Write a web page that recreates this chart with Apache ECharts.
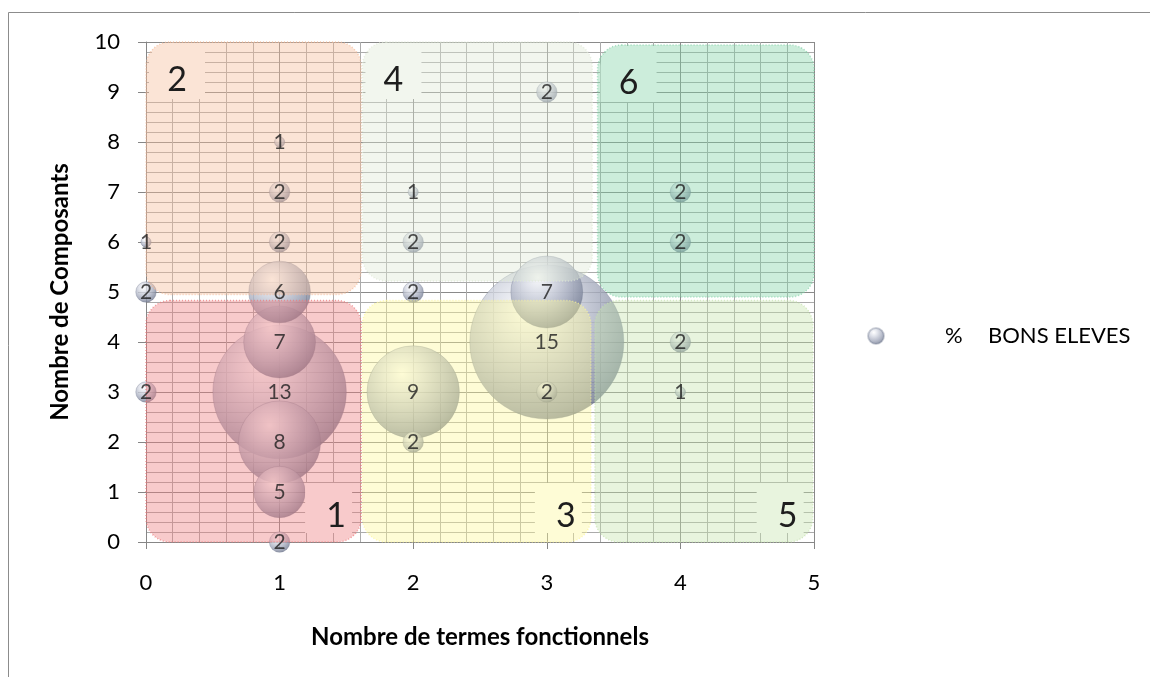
<!DOCTYPE html>
<html>
<head>
<meta charset="utf-8">
<script src="https://cdn.jsdelivr.net/npm/echarts@6/dist/echarts.min.js"></script>
<style>
  html, body {margin: 0; padding: 0; background: #fff;}
  #chart {width: 1150px; height: 677px;}
</style>
</head>
<body>
<div id="chart"></div>
<script>
// bubbles: x = termes fonctionnels, y = composants, size = % bons eleves
var termes     = [1, 1, 1, 1, 1, 1, 1, 1, 1, 0, 0, 0, 2, 2, 2, 2, 2, 3, 3, 3, 3, 4, 4, 4, 4];
var composants = [8, 7, 6, 5, 4, 3, 2, 1, 0, 6, 5, 3, 7, 6, 5, 3, 2, 9, 5, 4, 3, 7, 6, 4, 3];
var bonsEleves = [1, 2, 2, 6, 7, 13, 8, 5, 2, 1, 2, 2, 1, 2, 2, 9, 2, 2, 7, 15, 2, 2, 2, 2, 1];

// the six shaded zones
var regionNames = ['1', '2', '3', '4', '5', '6'];
var regionX0 = [0, 0, 1.62, 1.62, 3.36, 3.38];
var regionX1 = [1.61, 1.61, 3.33, 3.34, 4.99, 5];
var regionY0 = [0, 4.95, 0, 5.22, 0, 4.9];
var regionY1 = [4.83, 10, 4.83, 10, 4.83, 9.94];

var xTicks = [0, 5, 1];
var yTicks = [0, 10, 1];
var seriesName = '% BONS ELEVES';

var regionColors = ['#ee7a7c', '#f5bb98', '#fcf798', '#dee8d4', '#c5e3ac', '#7fd2a6'];
var regionAlpha = 0.4;
var maxBubble = 154;
var font = 'Lato, "Open Sans", sans-serif';

function hexRgb(hex){
    return [parseInt(hex.substr(1, 2), 16), parseInt(hex.substr(3, 2), 16), parseInt(hex.substr(5, 2), 16)];
}
function rgba(hex, a){
    var c = hexRgb(hex);
    return 'rgba(' + c[0] + ',' + c[1] + ',' + c[2] + ',' + a + ')';
}
// colour the zone shows over white paper
function overWhite(hex, a){
    var c = hexRgb(hex).map(function(v){ return Math.round(v * a + 255 * (1 - a)); });
    return 'rgb(' + c.join(',') + ')';
}

var sphere = {
    type: 'radial', x: 0.38, y: 0.3, r: 0.78,
    colorStops: [
        {offset: 0, color: '#ffffff'},
        {offset: 0.25, color: '#dcdfe8'},
        {offset: 0.6, color: '#a6acbe'},
        {offset: 0.85, color: '#7c849a'},
        {offset: 1, color: '#5f667b'}
    ]
};

var points = termes.map(function(x, i){ return [x, composants[i], bonsEleves[i]]; });
// big bubbles first so the small ones stay on top
points.sort(function(a, b){ return b[2] - a[2]; });
var maxVal = Math.max.apply(null, bonsEleves);

var regions = regionNames.map(function(n, i){
    return [regionX0[i], regionX1[i], regionY0[i], regionY1[i]];
});

function renderRegion(params, api){
    var i = params.dataIndex;
    var tl = api.coord([api.value(0), api.value(3)]);
    var br = api.coord([api.value(1), api.value(2)]);
    var isTop = regionY0[i] > 0;
    var box, tx, ty;
    if (isTop){
        box = {x: tl[0] + 3, y: tl[1] + 1, width: 56, height: 56, r: [20, 0, 0, 0]};
        tx = tl[0] + 31; ty = tl[1] + 38;
    }else{
        box = {x: br[0] - 56, y: br[1] - 59, width: 47, height: 50, r: 0};
        tx = br[0] - 25; ty = br[1] - 26;
    }
    return {
        type: 'group',
        children: [
            {
                type: 'rect',
                shape: {x: tl[0], y: tl[1], width: br[0] - tl[0], height: br[1] - tl[1], r: 24},
                style: {fill: rgba(regionColors[i], regionAlpha), stroke: rgba(regionColors[i], 0.7), lineWidth: 1.5, lineDash: [1, 2]}
            },
            {type: 'rect', shape: box, style: {fill: overWhite(regionColors[i], regionAlpha)}},
            {
                type: 'text',
                style: {text: regionNames[i], x: tx, y: ty, align: 'center', verticalAlign: 'middle',
                        fontSize: 34, fontFamily: font, fill: '#1e1e1e'}
            }
        ]
    };
}

var chart = echarts.init(document.getElementById('chart'));
chart.setOption({
    animation: false,
    backgroundColor: '#fff',
    textStyle: {fontFamily: font},
    graphic: [{
        type: 'rect', silent: true,
        shape: {x: 8.5, y: 12.5, width: 1200, height: 700},
        style: {fill: 'none', stroke: '#8c8c8c', lineWidth: 1}
    }],
    grid: {left: 146, right: 336, top: 42, bottom: 135},
    legend: {
        data: [seriesName],
        left: 862, top: 320,
        icon: 'circle', itemWidth: 16, itemHeight: 16,
        formatter: function(name){ return '{p|%}{b|' + name.replace('% ', '') + '}'; },
        textStyle: {
            fontSize: 22, color: '#000', fontFamily: font, padding: [0, 0, 0, 56],
            rich: {p: {width: 43, fontSize: 22, fontFamily: font}, b: {fontSize: 22, fontFamily: font}}
        }
    },
    xAxis: {
        type: 'value', min: xTicks[0], max: xTicks[1], interval: xTicks[2],
        name: 'Nombre de termes fonctionnels', nameLocation: 'middle', nameGap: 83,
        nameTextStyle: {fontSize: 24, fontWeight: 'bold', color: '#000', fontFamily: font},
        axisLine: {show: true, lineStyle: {color: '#868686'}},
        axisTick: {show: true, length: 7, lineStyle: {color: '#868686'}},
        axisLabel: {fontSize: 22, color: '#000', margin: 30, fontFamily: font},
        splitLine: {show: true, lineStyle: {color: '#8a8a8a'}},
        minorTick: {show: false, splitNumber: 5},
        minorSplitLine: {show: true, lineStyle: {color: '#ababab'}}
    },
    yAxis: {
        type: 'value', min: yTicks[0], max: yTicks[1], interval: yTicks[2],
        name: 'Nombre de Composants', nameLocation: 'middle', nameGap: 74,
        nameTextStyle: {fontSize: 24, fontWeight: 'bold', color: '#000', fontFamily: font},
        axisLine: {show: true, lineStyle: {color: '#868686'}},
        axisTick: {show: true, length: 8, lineStyle: {color: '#868686'}},
        axisLabel: {fontSize: 22, color: '#000', margin: 26, fontFamily: font},
        splitLine: {show: true, lineStyle: {color: '#8a8a8a'}},
        minorTick: {show: false, splitNumber: 5},
        minorSplitLine: {show: true, lineStyle: {color: '#ababab'}}
    },
    series: [
        {
            name: seriesName,
            type: 'scatter',
            z: 2,
            clip: false,
            data: points,
            symbol: 'circle',
            symbolSize: function(d){ return d[2] / maxVal * maxBubble; },
            itemStyle: {color: sphere, borderColor: 'rgba(110,118,140,0.4)', borderWidth: 1}
        },
        {
            name: 'zones',
            type: 'custom',
            z: 3,
            clip: false,
            silent: true,
            data: regions,
            renderItem: renderRegion
        },
        {
            name: 'labels',
            type: 'scatter',
            z: 4,
            clip: false,
            silent: true,
            data: points,
            symbolSize: 1,
            itemStyle: {color: 'rgba(0,0,0,0)'},
            label: {
                show: true, position: 'inside', fontSize: 21, color: '#1e1e1e', fontFamily: font,
                formatter: function(p){ return p.value[2]; }
            }
        }
    ]
});
</script>
</body>
</html>
